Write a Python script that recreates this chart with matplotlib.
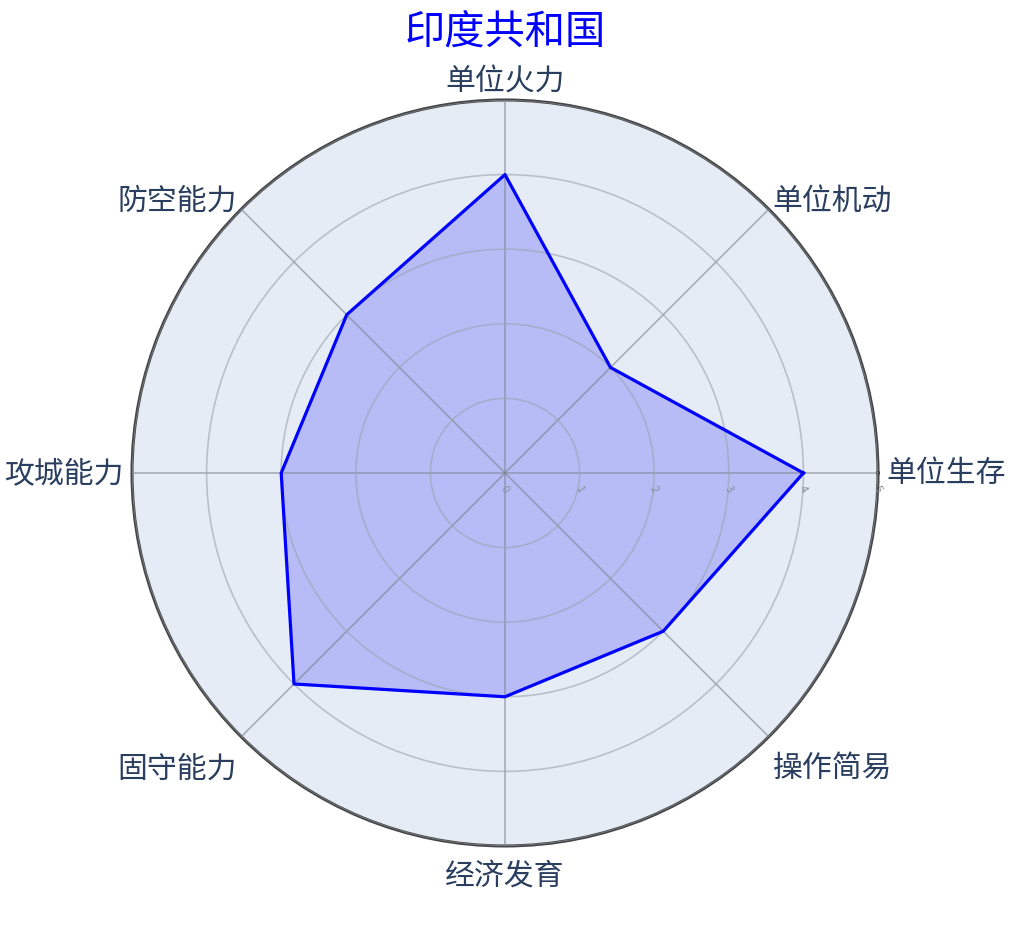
import matplotlib.pyplot as plt
import numpy as np

plt.rcParams['font.family'] = ['Noto Sans CJK SC', 'DejaVu Sans']

# Data
categories = ['单位生存', '单位机动', '单位火力', '防空能力', '攻城能力', '固守能力', '经济发育', '操作简易']
values = [4, 2, 4, 3, 3, 4, 3, 3]
r_ticks = [0, 1, 2, 3, 4, 5]
title = '印度共和国'

n = len(categories)
angles = np.arange(n) * 2 * np.pi / n
theta = np.append(angles, angles[0])
r = np.append(values, values[0])

fig = plt.figure(figsize=(10.1, 9.29), dpi=100)
ax = fig.add_axes([0.1307, 0.0883, 0.7386, 0.803], projection='polar')
ax.set_facecolor('#E5ECF6')
ax.set_ylim(0, 5)

ax.fill(theta, r, color='blue', alpha=0.2, zorder=2)
ax.plot(theta, r, color='blue', linewidth=2.3, zorder=4)

# grid
ax.set_xticks(angles)
ax.set_xticklabels([])
ax.set_yticks(r_ticks[1:])
ax.set_yticklabels([])
ax.xaxis.grid(True, color='#7d838d', linewidth=1.2, alpha=0.6, zorder=3)
ax.yaxis.grid(True, color='#9aa3b0', linewidth=1.2, alpha=0.6, zorder=3)
ax.set_axisbelow(False)
ax.spines['polar'].set_color('#444444')
ax.spines['polar'].set_linewidth(2.2)

# radial tick labels
for t in r_ticks:
    ax.annotate(str(t), xy=(0, t), xytext=(0, -11), textcoords='offset points',
                color='#8a8f99', fontsize=8, rotation=-60, ha='center', va='center', zorder=5)

# category labels, placed just outside the outer circle
for a, lab in zip(angles, categories):
    c, s = np.cos(a), np.sin(a)
    ha = 'left' if c > 0.1 else ('right' if c < -0.1 else 'center')
    if abs(s) < 0.1:
        va, off = 'center', (8 * np.sign(c), 0)
    elif abs(c) < 0.1:
        va, off = ('bottom', (0, 3)) if s > 0 else ('top', (0, -14))
    else:
        va, off = ('bottom', (4 * np.sign(c), -6)) if s > 0 else ('center', (4 * np.sign(c), -31))
    ax.annotate(lab, xy=(a, 5), xytext=off, textcoords='offset pixels',
                ha=ha, va=va, fontsize=21.5, color='#2a3f5f', annotation_clip=False)

fig.text(0.5, 0.965, title, ha='center', va='center', fontsize=29, color='blue')

fig.savefig('out.png', dpi=100)
